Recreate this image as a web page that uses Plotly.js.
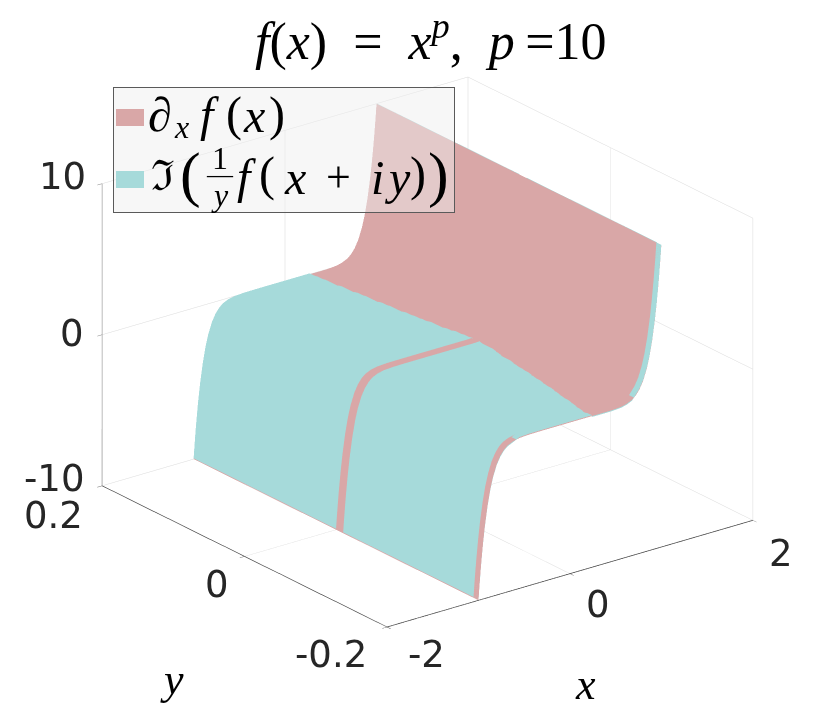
<!DOCTYPE html>
<html>
<head>
<meta charset="utf-8">
<script src="https://cdn.plot.ly/plotly-3.0.1.min.js"></script>
<style>body{margin:0;background:#fff}</style>
</head>
<body>
<div id="myDiv1" style="width:830px;height:723px"></div>
<script>
// profile along x
var xs = [-1,-0.99,-0.98,-0.97,-0.95,-0.93,-0.9,-0.87,-0.84,-0.8,-0.76,-0.72,-0.68,-0.62,-0.55,-0.45,-0.3,-0.1,0.1,0.2,
  0.21,0.22,0.23,0.24,0.25,0.26,0.27,0.28,0.29,0.3,0.31,0.32,0.33,0.34,0.35,0.36,0.37,0.38,0.39,0.4,
  0.41,0.42,0.43,0.44,0.45,0.46,0.47,0.48,0.49,0.5,0.51,0.52,0.53,0.54,0.55,0.56,
  0.62,0.68,0.72,0.76,0.8,0.84,0.87,0.9,0.93,0.95,0.97,0.98,0.99,1];
var dfdx = [-10,-9.14,-8.34,-7.6,-6.3,-5.2,-3.87,-2.85,-2.08,-1.34,-0.85,-0.52,-0.31,-0.14,-0.05,-0.01,0,0,0,0,
  0,0,0,0,0,0,0,0,0,0,0,0,0,0,0,0,0,0,0,0,
  0,0,0,0,0,0.01,0.01,0.01,0.02,0.02,0.02,0.03,0.03,0.04,0.05,0.05,
  0.14,0.31,0.52,0.85,1.34,2.08,2.85,3.87,5.2,6.3,7.6,8.34,9.14,10];

var yRed = [-0.2,0,0.2];
var yBack = [0.2,0.19,0.18,0.17,0.16,0.15,0.14,0.13,0.12,0.11,0.1,0.09,0.08,0.07,0.06,0.05,0.04,0.03,0.02,0.01,0];
var crossBack = [0.28,0.29,0.3,0.3,0.32,0.32,0.34,0.35,0.35,0.37,0.38,0.38,0.4,0.41,0.42,0.44,0.44,0.46,0.48,0.49,0.5];
var yFront = [-0.01,-0.02,-0.03,-0.04,-0.05,-0.06,-0.07,-0.08,-0.09,-0.1,-0.11,-0.12,-0.13,-0.14,-0.15,-0.16,-0.17,-0.18,-0.193];
var crossFront = [0.5,0.49,0.49,0.47,0.45,0.45,0.43,0.42,0.41,0.39,0.38,0.36,0.35,0.33,0.31,0.3,0.28,0.26,0.24];
var yEdge = [-0.2,-0.193];
// along the y=-0.2 edge the teal sheet is on top only between these x
var edgeOnTop = [[-0.55,0.24],[0.7,1]];
var tealGap = 0.06;
var tealEndX = 1.006;
var tealEndZ = 10;

var xTicks = [-2,0,2];
var yTicks = [-0.2,0,0.2];
var zTicks = [-10,0,10];
var yTickText = ['-0.2','0','0.2'];

var tickFont = {family:'DejaVu Sans', size:37, color:'#262626'};
var red = 'rgb(217,167,167)';
var teal = 'rgb(166,218,218)';
var flat = {ambient:1, diffuse:0, specular:0, roughness:1, fresnel:0};

function surf(name, x, y, z, c){
  return {type:'surface', name:name, x:x, y:y, z:z, colorscale:[[0,c],[1,c]], showscale:false,
    showlegend:false, lighting:flat, hoverinfo:'skip'};
}
var tealX = xs.concat([tealEndX]);
function tealRows(ys, cross){
  return ys.map(function(y,i){
    return xs.map(function(x,j){ return x<cross[i] ? dfdx[j]+tealGap : dfdx[j]-tealGap; }).concat([tealEndZ]);
  });
}
var edgeZ = xs.map(function(x,j){
  var top = edgeOnTop.some(function(r){return x>=r[0] && x<=r[1];});
  return top ? dfdx[j]+tealGap : dfdx[j]-tealGap;
}).concat([tealEndZ]);

var data = [
  surf('df/dx', xs, yRed, yRed.map(function(){return dfdx;}), red),
  surf('Im f/y', tealX, yBack, tealRows(yBack,crossBack), teal),
  surf('Im f/y', tealX, yFront, tealRows(yFront,crossFront), teal),
  surf('Im f/y', tealX, yEdge, yEdge.map(function(){return edgeZ;}), teal)
];

function axis(range, ticks, line){
  return {range:range, tickvals:ticks, showticklabels:false, showbackground:false, showspikes:false,
    gridcolor:'rgb(218,218,218)', gridwidth:1, zeroline:false, showline:true, linecolor:line, linewidth:1.5,
    ticks:'outside', ticklen:6, tickcolor:line, title:{text:''}};
}

function label(x, y, z, text, dx, dy, font){
  return {x:x, y:y, z:z, text:text, showarrow:false, font:font||tickFont, xshift:dx, yshift:dy, xanchor:'center', yanchor:'middle'};
}
var mathLabel = {family:'Liberation Serif', size:44, color:'#000'};
var notes = [
  label(-2,0.2,10,'10',-40,7),
  label(-2,0.2,0,'0',-30,1),
  label(-2,0.2,-10,'-10',-48,7),
  label(-2,yTicks[2],-10,yTickText[2],-49,-30),
  label(-2,yTicks[1],-10,yTickText[1],-27,-28),
  label(-2,yTicks[0],-10,yTickText[0],-56,-27),
  label(xTicks[0],-0.2,-10,'-2',40,-27),
  label(xTicks[1],-0.2,-10,'0',28,-31),
  label(xTicks[2],-0.2,-10,'2',28,-33),
  label(-2,0,-10,'<i>y</i>',-72,-123,mathLabel),
  label(0,-0.2,-10,'<i>x</i>',16,-111,mathLabel)
];

// legend box, swatches and math, placed in page pixels
function px(text, xp, yp, size, anchor){
  return {xref:'paper', yref:'paper', x:xp/830, y:1-yp/723, text:text, showarrow:false,
    xanchor:anchor||'center', yanchor:'middle', font:{family:'Liberation Serif', size:size, color:'#000'}};
}
function box(xp, yp, w, h, c, line){
  return {xref:'paper', yref:'paper', x:xp/830, y:1-yp/723, text:' ', showarrow:false, width:w, height:h, bgcolor:c,
    bordercolor:line||'rgba(0,0,0,0)', borderwidth:line?1:0, borderpad:0, xanchor:'left', yanchor:'top'};
}
var legendNotes = [
  box(113,87,340,124,'rgba(238,238,238,0.48)','rgb(90,90,90)'),
  box(116,109,28,17,red),
  box(116,171,28,17,teal),
  px('<i>∂</i>',160,114,48),
  px('<i>x</i>',181,127,32),
  px('<i>f</i>',209,115,48),
  px('(',234,114,48),
  px('<i>x</i>',254,116,48),
  px(')',277,114,48),
  px('ℑ',162,176,42),
  px('(',190,174,62),
  px('1',220,158,32),
  px('—',220,174,26),
  px('<i>y</i>',220,195,32),
  px('<i>f</i>',246,176,48),
  px('(',267,174,48),
  px('<i>x</i>',295,177,48),
  px('+',338,177,44),
  px('<i>i</i>',377,177,48),
  px('<i>y</i>',397,177,48),
  px(')',418,174,48),
  px(')',438,174,62)
];

Plotly.newPlot('myDiv1', data, {
  width:830, height:723,
  margin:{l:0,r:0,t:0,b:0},
  paper_bgcolor:'#fff',
  showlegend:false,
  title:{text:'<i>f</i>(<i>x</i>)\u2002=\u2002<i>x<sup>p</sup></i>,\u2002<i>p</i>\u2009=10', font:{family:'Liberation Serif', size:52, color:'#000'}, x:0.519, xanchor:'center', y:0.943, yanchor:'middle'},
  annotations:legendNotes,
  scene:{
    domain:{x:[0.03,1], y:[0.026,1]},
    xaxis:axis([-2,2],xTicks,'rgb(60,60,60)'), yaxis:axis([-0.2,0.2],yTicks,'rgb(60,60,60)'), zaxis:axis([-10,10],zTicks,'rgb(130,130,130)'),
    aspectmode:'manual', aspectratio:{x:1.31,y:1.33,z:0.928},
    camera:{projection:{type:'orthographic'}, up:{x:0,y:0,z:1}, center:{x:0,y:0,z:0}, eye:{x:-0.853,y:-1.112,z:0.576}},
    annotations:notes
  }
}, {displayModeBar:false});
</script>
</body>
</html>
